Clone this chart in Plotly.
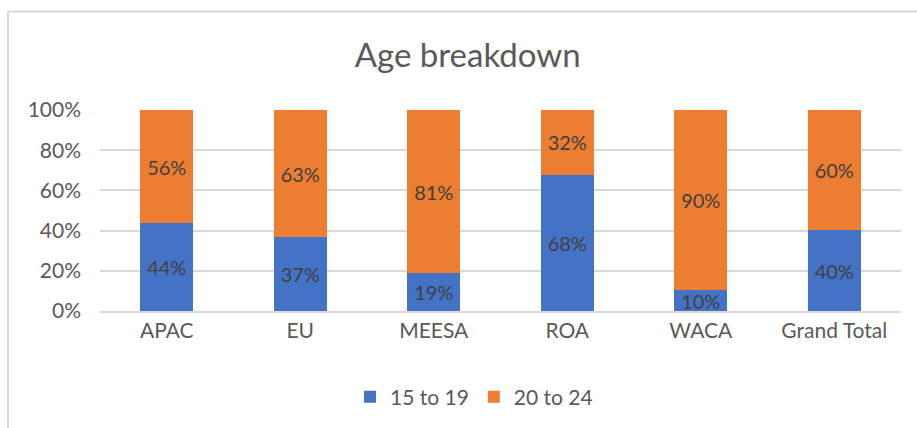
import plotly.graph_objects as go

regions = ["APAC", "EU", "MEESA", "ROA", "WACA", "Grand Total"]
share_15_19 = [0.436, 0.366, 0.187, 0.678, 0.104, 0.402]
share_20_24 = [round(1 - v, 3) for v in share_15_19]

BLUE = "#4472C4"
ORANGE = "#ED7D31"
FONT = "Lato, 'Open Sans', sans-serif"

fig = go.Figure()
fig.add_trace(go.Bar(
    x=regions, y=share_15_19, name="15 to 19",
    marker_color=BLUE, marker_line_width=0,
    texttemplate="%{y:.0%}", textposition="inside", insidetextanchor="middle",
    textfont=dict(color="#404040", size=20),
))
fig.add_trace(go.Bar(
    x=regions, y=share_20_24, name="20 to 24",
    marker_color=ORANGE, marker_line_width=0,
    texttemplate="%{y:.0%}", textposition="inside", insidetextanchor="middle",
    textfont=dict(color="#404040", size=20),
))

# margins put the plot area at x 100..901, y 110..312 px
L, R, T, B = 100, 16, 110, 116
pw, ph = 917 - L - R, 428 - T - B

def px_x(p):
    return (p - L) / pw

def px_y(p):
    return (428 - B - p) / ph

fig.update_layout(
    barmode="stack",
    bargap=0.6,
    width=917, height=428,
    margin=dict(l=L, r=R, t=T, b=B),
    paper_bgcolor="white", plot_bgcolor="white",
    font=dict(family=FONT, color="#595959", size=20),
    uniformtext=dict(mode="show", minsize=20),
    title=dict(text="Age breakdown", x=0.51, xanchor="center",
               y=1 - 55 / 428, yanchor="middle",
               font=dict(size=33, color="#595959")),
    xaxis=dict(showgrid=False, showline=True, linecolor="#D9D9D9", linewidth=2,
               ticks="", tickfont=dict(size=21)),
    yaxis=dict(range=[0, 1], tickvals=[0, 0.2, 0.4, 0.6, 0.8, 1.0],
               tickformat=".0%", gridcolor="#D9D9D9", gridwidth=2,
               zeroline=False, ticks="", ticklabelstandoff=18,
               tickfont=dict(size=21)),
    legend=dict(orientation="h", x=px_x(474), xanchor="center",
                y=px_y(397), yanchor="middle", font=dict(size=21),
                itemwidth=30, traceorder="normal"),
    showlegend=True,
    shapes=[
        dict(type="line", xref="paper", yref="paper",
             x0=px_x(8), x1=px_x(8), y0=px_y(11), y1=px_y(440),
             line=dict(color="#D9D9D9", width=2)),
        dict(type="line", xref="paper", yref="paper",
             x0=px_x(8), x1=px_x(930), y0=px_y(11), y1=px_y(11),
             line=dict(color="#D9D9D9", width=2)),
    ],
)

fig.write_html("out.html", config={"displayModeBar": False},
               post_script="document.body.style.margin='0';")
